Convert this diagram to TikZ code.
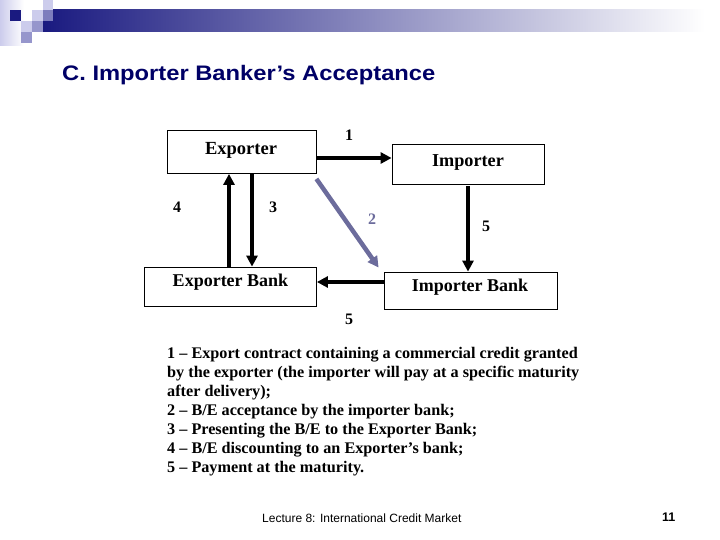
\documentclass[tikz,border=0pt]{standalone}
\usepackage{fontspec}
\setmainfont{Liberation Serif}
\setsansfont{Liberation Sans}
\usetikzlibrary{arrows.meta}
\definecolor{navy}{RGB}{26,26,128}
\definecolor{titleblue}{RGB}{0,0,102}
\definecolor{lav}{RGB}{204,204,236}
\definecolor{midlav}{RGB}{150,150,204}
\definecolor{slate}{RGB}{108,108,156}
\tikzset{
  box/.style={draw, line width=0.8pt, inner sep=0pt},
  boxtext/.style={anchor=base, inner sep=0pt, font=\fontsize{#1}{20}\selectfont\bfseries},
  flow/.style={line width=3.6pt, -{Triangle[length=11pt,width=11pt]}},
  num/.style={font=\fontsize{16}{18}\selectfont\bfseries, inner sep=0pt},
  listline/.style={anchor=base west, inner sep=0pt, font=\fontsize{16.2}{19}\selectfont\bfseries},
}
\begin{document}
\begin{tikzpicture}[x=1pt,y=-1pt]
\useasboundingbox (0,0) rectangle (720,540);
% header decoration
\shade[left color=lav, right color=white] (0,0) rectangle (24,46);
\shade[left color=navy, right color=white] (43,10) rectangle (705,32);
\fill[lav] (43,0) rectangle (53,10);
\fill[navy] (10,10) rectangle (21,21);
\fill[lav] (32,10) rectangle (43,21);
\fill[lav] (21,21) rectangle (32,32);
\fill[midlav] (32,21) rectangle (43,32);
\fill[midlav] (21,32) rectangle (32,43);
\fill[midlav!80!navy] (43,10) rectangle (53,21);
% title
\node[anchor=base west, inner sep=0pt, text=titleblue, font=\sffamily\bfseries\fontsize{21}{24}\selectfont\addfontfeature{FakeStretch=1.13}] (title) at (62,81) {C. Importer Banker’s Acceptance};
% boxes
\node[box, minimum width=149pt, minimum height=43pt] (Exp) at (241.5,152) {};
\node[box, minimum width=152pt, minimum height=40pt] (Imp) at (468,164) {};
\node[box, minimum width=172pt, minimum height=39pt] (ExB) at (230.5,286.5) {};
\node[box, minimum width=173pt, minimum height=37pt] (ImB) at (470.5,290.5) {};
\node[boxtext=18.5] (tExp) at (241,154.5) {Exporter};
\node[boxtext=18.2] (tImp) at (468,166.5) {Importer};
\node[boxtext=18] (tExB) at (230.5,286.7) {Exporter Bank};
\node[boxtext=18] (tImB) at (470,291) {Importer Bank};
% arrows
\draw[flow] ([yshift=-6pt]Exp.east) -- ([yshift=-6pt]Exp.east -| Imp.west);
\draw[flow, draw=slate, fill=slate, line width=4.5pt] ([yshift=-5pt]Exp.south east) -- ([xshift=-5pt,yshift=4pt]ImB.north west);
\draw[flow] ([xshift=10.5pt]Exp.south) -- ([xshift=10.5pt]Exp.south |- ExB.north);
\draw[flow] ([xshift=-12.5pt]Exp.south |- ExB.north) -- ([xshift=-12.5pt]Exp.south);
\draw[flow] ([yshift=-2pt]Imp.south) -- (Imp.south |- ImB.north);
\draw[flow] ([yshift=8.5pt]ImB.west) -- ([yshift=8.5pt]ImB.west -| ExB.east);
% labels
\node[num] (n1) at (349,135) {1};
\node[num, text=slate] (n2) at (372,219) {2};
\node[num] (n3) at (273,207) {3};
\node[num] (n4) at (177,207) {4};
\node[num] (n5a) at (486,226) {5};
\node[num] (n5b) at (349,319) {5};
% legend
\node[listline] (l1) at (167,358) {1 – Export contract containing a commercial credit granted};
\node[listline] (l2) at (167,377) {by the exporter (the importer will pay at a specific maturity};
\node[listline] (l3) at (167,396) {after delivery);};
\node[listline] (l4) at (167,415) {2 – B/E acceptance by the importer bank;};
\node[listline] (l5) at (167,434) {3 – Presenting the B/E to the Exporter Bank;};
\node[listline] (l6) at (167,453) {4 – B/E discounting to an Exporter’s bank;};
\node[listline] (l7) at (167,472) {5 – Payment at the maturity.};
% footer
\node[anchor=base west, inner sep=0pt, font=\sffamily\fontsize{12}{14}\selectfont] (foot) at (262,522) {Lecture 8: International Credit Market};
\node[anchor=base west, inner sep=0pt, font=\sffamily\bfseries\fontsize{12.5}{14}\selectfont] (page) at (662,521) {11};
\end{tikzpicture}
\end{document}
